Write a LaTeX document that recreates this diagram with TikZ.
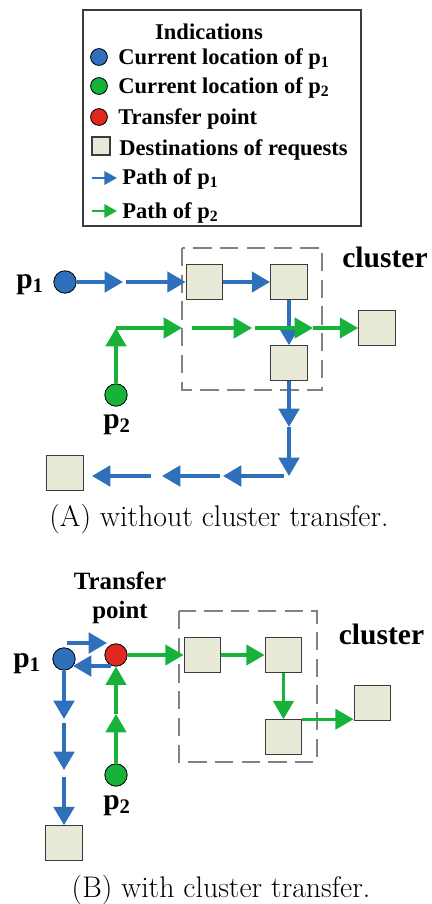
\documentclass[tikz,border=0pt]{standalone}
\usepackage{fontspec}
\usepackage{tikz}
\usetikzlibrary{arrows.meta}
\newfontfamily\tnr{Liberation Serif}
\definecolor{pblue}{RGB}{47,112,186}
\definecolor{pgreen}{RGB}{22,178,58}
\definecolor{pred}{RGB}{224,40,30}
\definecolor{dfill}{RGB}{232,233,214}
\definecolor{dline}{RGB}{60,60,60}
\definecolor{cgray}{RGB}{130,130,130}

\begin{document}
\begin{tikzpicture}[
  x=0.025cm, y=-0.025cm,
  loc/.style={circle, draw=black, line width=0.6pt, inner sep=0pt, minimum size=0.56cm},
  legloc/.style={loc, minimum size=0.42cm},
  dest/.style={draw=dline, fill=dfill, line width=0.8pt, inner sep=0pt, minimum width=0.92cm, minimum height=0.86cm},
  legdest/.style={dest, minimum width=0.45cm, minimum height=0.45cm},
  bluepath/.style={draw=pblue, line width=2.6pt, -{Triangle[length=13pt,width=14.5pt]}},
  greenpath/.style={draw=pgreen, line width=2.2pt, -{Triangle[length=13pt,width=14.5pt]}},
  legpath/.style={line width=1.6pt, -{Triangle[length=9pt,width=9.5pt]}},
  cluster/.style={draw=cgray, line width=1pt, dash pattern=on 13pt off 6pt},
  legtext/.style={font=\tnr\bfseries\fontsize{16}{19}\selectfont, inner sep=0pt, anchor=base west},
  biglabel/.style={font=\tnr\bfseries\fontsize{21}{25}\selectfont, inner sep=0pt, anchor=base},
  caption/.style={font=\fontsize{21.2}{25}\selectfont, inner sep=0pt, anchor=base}
]
\useasboundingbox (0,0) rectangle (432,904);

\draw[dline, line width=0.8pt] (83,10) rectangle (361,226);
\node[legtext, anchor=base] (leg-title) at (209,39) {Indications};
\node[legloc, fill=pblue] (leg-p1) at (99,57) {};
\node[legtext] (leg-p1-text) at (118,64) {Current location of p\textsubscript{1}};
\node[legloc, fill=pgreen] (leg-p2) at (99,86) {};
\node[legtext] (leg-p2-text) at (118,93) {Current location of p\textsubscript{2}};
\node[legloc, fill=pred] (leg-tp) at (99,117) {};
\node[legtext] (leg-tp-text) at (118,124) {Transfer point};
\node[legdest] (leg-d) at (101,146) {};
\node[legtext] (leg-d-text) at (119,155) {Destinations of requests};
\coordinate (leg-a1s) at (92,178);
\coordinate (leg-a1e) at (117,178);
\draw[legpath, draw=pblue] (leg-a1s) -- (leg-a1e);
\node[legtext] (leg-a1-text) at (122,184) {Path of p\textsubscript{1}};
\coordinate (leg-a2s) at (92,211);
\coordinate (leg-a2e) at (117,211);
\draw[legpath, draw=pgreen] (leg-a2s) -- (leg-a2e);
\node[legtext] (leg-a2-text) at (122,218) {Path of p\textsubscript{2}};

\draw[cluster] (182,248) rectangle (322,390);
\node[biglabel] (a-cl) at (385,267) {cluster};
\node[biglabel] (a-p1-text) at (30,288) {p\textsubscript{1}};
\node[biglabel] (a-p2-text) at (117,428) {p\textsubscript{2}};
\node[loc, fill=pblue] (a-p1) at (65,282) {};
\node[loc, fill=pgreen] (a-p2) at (116,395) {};
\node[dest] (a-d1) at (204.5,282) {};
\node[dest] (a-d2) at (289,282) {};
\node[dest] (a-d3) at (289,363) {};
\node[dest] (a-d4) at (377,328) {};
\node[dest] (a-d5) at (65,473) {};
\coordinate (a-b1) at (123,282);
\coordinate (a-b2) at (126,282);
\coordinate (a-b3) at (289,427);
\coordinate (a-b4) at (289,476);
\coordinate (a-b5) at (284,476);
\coordinate (a-b6) at (223,476);
\coordinate (a-b7) at (220,476);
\coordinate (a-b8) at (162,476);
\coordinate (a-b9) at (151,476);
\coordinate (a-b10) at (92,476);
\draw[bluepath] (a-p1) -- (a-b1);
\draw[bluepath] (a-b2) -- (a-d1);
\draw[bluepath] (a-d1) -- (a-d2);
\draw[bluepath] (a-d2) -- (a-d3);
\draw[bluepath] (a-d3) -- (a-b3);
\draw[bluepath] (a-b3) -- (a-b4);
\draw[bluepath] (a-b5) -- (a-b6);
\draw[bluepath] (a-b7) -- (a-b8);
\draw[bluepath] (a-b9) -- (a-b10);
\coordinate (a-g1) at (116,328);
\coordinate (a-g2) at (182,328);
\coordinate (a-g3) at (192,328);
\coordinate (a-g4) at (252,328);
\coordinate (a-g5) at (255,328);
\coordinate (a-g6) at (313,328);
\draw[greenpath] (a-p2) -- (a-g1);
\draw[greenpath] (a-g1) -- (a-g2);
\draw[greenpath] (a-g3) -- (a-g4);
\draw[greenpath] (a-g5) -- (a-g6);
\draw[greenpath] (a-g6) -- (a-d4);
\node[caption] (a-caption) at (219,526) {(A) without cluster transfer.};

\draw[cluster] (179,611) rectangle (317,762);
\node[biglabel] (b-cl) at (381.5,644) {cluster};
\node[biglabel] (b-p1-text) at (27,667) {p\textsubscript{1}};
\node[biglabel] (b-p2-text) at (117,809) {p\textsubscript{2}};
\node[font=\tnr\bfseries\fontsize{17.7}{21}\selectfont, align=center, inner sep=0pt] (b-tp-text) at (120,598) {Transfer\\point};
\node[loc, fill=pblue] (b-p1) at (64,659) {};
\node[loc, fill=pred] (b-tp) at (116,655) {};
\node[loc, fill=pgreen] (b-p2) at (116,775) {};
\node[dest] (b-d1) at (202.5,655) {};
\node[dest] (b-d2) at (283.5,655) {};
\node[dest] (b-d3) at (283.5,737) {};
\node[dest] (b-d4) at (372.5,703) {};
\node[dest] (b-d5) at (64,843) {};
\coordinate (b-c1) at (67,643);
\coordinate (b-c2) at (107,643);
\coordinate (b-c3) at (111,666);
\coordinate (b-c4) at (73,666);
\coordinate (b-c5) at (64,719);
\coordinate (b-c6) at (64,723);
\coordinate (b-c7) at (64,770);
\coordinate (b-c8) at (64,777);
\draw[bluepath] (b-c1) -- (b-c2);
\draw[bluepath] (b-c3) -- (b-c4);
\draw[bluepath] (b-p1) -- (b-c5);
\draw[bluepath] (b-c6) -- (b-c7);
\draw[bluepath] (b-c8) -- (b-d5);
\coordinate (b-h1) at (116,714);
\draw[greenpath] (b-p2) -- (b-h1);
\draw[greenpath] (b-h1) -- (b-tp);
\draw[greenpath] (b-tp) -- (b-d1);
\draw[greenpath] (b-d1) -- (b-d2);
\draw[greenpath] (b-d2) -- (b-d3);
\draw[greenpath] (b-d3.north east) -- (b-d3.north east -| b-d4.west);
\node[caption] (b-caption) at (221,897) {(B) with cluster transfer.};
\end{tikzpicture}
\end{document}
